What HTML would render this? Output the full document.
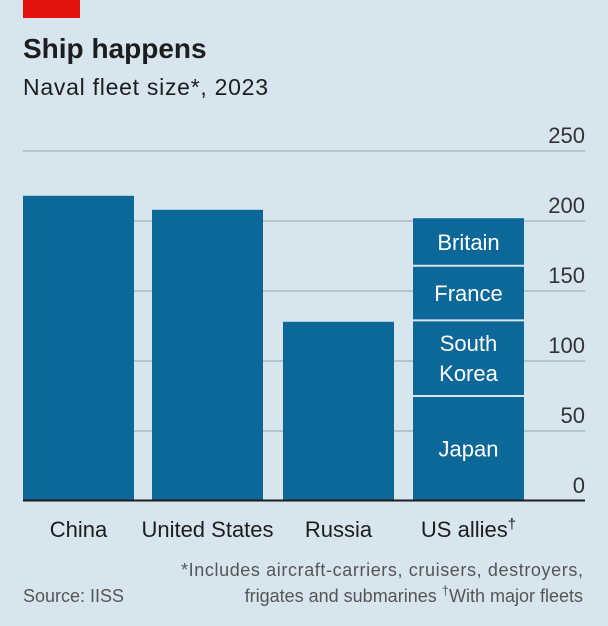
<!DOCTYPE html>
<html><head><meta charset="utf-8"><style>
body{margin:0;background:#d7e5ee;font-family:"Liberation Sans",sans-serif;}
#wrap{position:relative;width:608px;height:626px;overflow:hidden;background:#d7e5ee}
</style></head><body>
<div id="wrap">
<svg id="svg" width="608" height="626" xmlns="http://www.w3.org/2000/svg">
<rect x="23" y="0" width="57" height="18" fill="#e3120b"/>
<text x="23" y="58" font-size="28" font-weight="bold" fill="#1d1d1d">Ship happens</text>
<text x="23" y="95" font-size="23" fill="#1d1d1d" textLength="245">Naval fleet size*, 2023</text>
<g id="grid"></g>
<g id="bars"></g>
<line x1="23" x2="585" y1="500.5" y2="500.5" stroke="#1d1d1d" stroke-width="2"/>
<text x="23" y="602" font-size="18" fill="#555">Source: IISS</text>
<text x="583" y="576" font-size="18" fill="#555" text-anchor="end" textLength="402">*Includes aircraft-carriers, cruisers, destroyers,</text>
<text x="583" y="602" font-size="18" fill="#555" text-anchor="end">frigates and submarines  <tspan font-size="13" dy="-7">†</tspan><tspan dy="7">With major fleets</tspan></text>
</svg>
</div>
<script>
const categories=["China","United States","Russia","US allies"];
const values=[218,208,128,null];
const allyNames=["Japan","South Korea","France","Britain"];
const allyValues=[75,54,39,34];
const ticks=[0,50,100,150,200,250];
const NS="http://www.w3.org/2000/svg";
const y0=501,pxPer=1.4;
function y(v){return y0-v*pxPer;}
const barX=[23,152,283,413],barW=111;
function el(t,a,p){const e=document.createElementNS(NS,t);for(const k in a)e.setAttribute(k,a[k]);p.appendChild(e);return e;}
const grid=document.getElementById('grid'),bars=document.getElementById('bars');
ticks.forEach(t=>{
 if(t>0){const l=el('line',{x1:23,x2:585,y1:y(t),y2:y(t),stroke:'#a8b8c2','stroke-width':1.5},grid);
 
 }
 const tx=el('text',{x:585,y:y(t)-8,'font-size':22,fill:'#333','text-anchor':'end'},grid);
 tx.textContent=t;
 
 
});
categories.forEach((c,i)=>{
 if(values[i]!=null){const r=el('rect',{x:barX[i],y:y(values[i]),width:barW,height:y0-y(values[i]),fill:'#0c6898'},bars);
 
 }
 const t=el('text',{x:barX[i]+barW/2,y:537,'font-size':22,fill:'#1d1d1d','text-anchor':'middle'},bars);
 t.textContent=c;
 if(c==="US allies"){const s=el('tspan',{'font-size':15,dy:-8},t);s.textContent='†';}
 
 
});
let cum=0;
allyNames.forEach((n,i)=>{
 const top=y(cum+allyValues[i]),bot=y(cum);
 const r=el('rect',{x:barX[3],y:top,width:barW,height:bot-top,fill:'#0c6898'},bars);
 
 
 if(i>0){const l=el('line',{x1:barX[3],x2:barX[3]+barW,y1:bot,y2:bot,stroke:'#d7e5ee','stroke-width':2},bars);
 
 }
 const words=n==="South Korea"?["South","Korea"]:[n];
 const mid=(top+bot)/2;
 words.forEach((w,j)=>{
  const t=el('text',{x:barX[3]+barW/2,y:mid+8+(j-(words.length-1)/2)*30,'font-size':22,fill:'#fff','text-anchor':'middle'},bars);
  t.textContent=w;
  
  
 });
 cum+=allyValues[i];
});
</script>
</body></html>
